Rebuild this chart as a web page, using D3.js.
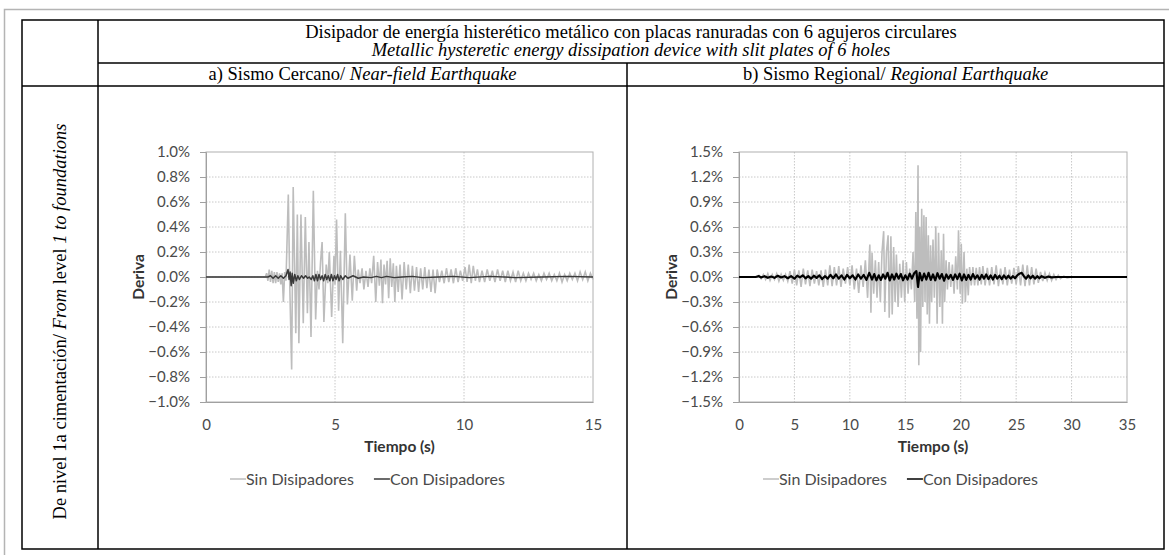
<!DOCTYPE html>
<html>
<head>
<meta charset="utf-8">
<script src="https://cdn.jsdelivr.net/npm/d3@7/dist/d3.min.js"></script>
<style>
  body { margin: 0; background: #fff; }
  svg { display: block; }
  .serif { font-family: "Liberation Serif", "Times New Roman", serif; font-size: 18.5px; fill: #000; }
  .xl text, .yl text { font-family: Lato, "Open Sans", sans-serif; font-size: 15px; fill: #4a4a4a; }
  .lab { font-family: Lato, "Open Sans", sans-serif; font-size: 15.5px; font-weight: bold; fill: #333; }
  .leg { font-family: Lato, "Open Sans", sans-serif; font-size: 16px; fill: #4a4a4a; }
</style>
</head>
<body>
<svg id="fig" width="1169" height="555"></svg>
<script>
// ---- texts ----
const titleEs = "Disipador de energía histerético metálico con placas ranuradas con 6 agujeros circulares";
const titleEn = "Metallic hysteretic energy dissipation device with slit plates of 6 holes";
const headA = ["a) Sismo Cercano/ ", "Near-field Earthquake"];
const headB = ["b) Sismo Regional/ ", "Regional Earthquake"];
const rowLabel = [["De nivel 1a cimentación/ ", false], ["From", true], [" level ", false], ["1 to foundations", true]];
const seriesNames = ["Sin Disipadores", "Con Disipadores"];

// ---- a) near-field, drift (%) vs time (s) ----
const leftXTicks = [0, 5, 10, 15];
const leftYTicks = [-1.0, -0.8, -0.6, -0.4, -0.2, 0.0, 0.2, 0.4, 0.6, 0.8, 1.0];
const leftSin = [
  [0,0],[2.3,0],[2.35,0.03],[2.4,-0.03],[2.45,0.06],[2.5,-0.04],[2.55,0.05],[2.6,-0.05],[2.65,0.04],[2.7,-0.05],
  [2.75,0.04],[2.8,-0.04],[2.85,0.03],[2.9,-0.06],[2.95,0.03],[3.0,-0.2],[3.05,0.04],[3.1,-0.03],
  [3.19,0.66],[3.25,-0.1],[3.32,-0.74],[3.38,0.72],[3.48,-0.45],[3.54,0.5],[3.6,-0.53],[3.68,0.5],[3.77,-0.37],
  [3.85,0.48],[3.93,-0.29],[3.99,0.28],[4.07,-0.48],[4.16,0.69],[4.25,-0.34],[4.32,0.05],[4.38,-0.1],[4.44,0.12],
  [4.5,0.28],[4.57,-0.36],[4.66,0.1],[4.72,-0.05],[4.78,0.2],[4.87,-0.32],[4.96,0.17],[5.0,-0.06],[5.06,0.46],
  [5.14,-0.27],[5.21,0.21],[5.3,-0.53],[5.4,0.51],[5.48,-0.22],[5.58,0.18],[5.67,-0.19],[5.75,0.17],[5.84,-0.11],
  [5.9,0.06],[5.97,-0.05],[6.05,0.07],[6.12,-0.1],[6.2,0.05],[6.28,-0.08],[6.35,0.07],[6.42,-0.05],[6.5,0.17],
  [6.58,-0.2],[6.65,0.12],[6.72,-0.07],[6.78,0.14],[6.84,-0.21],[6.9,0.1],[6.96,-0.06],[7.02,0.13],[7.08,-0.17],
  [7.14,0.15],[7.2,-0.08],[7.26,0.11],[7.32,-0.2],[7.38,0.09],[7.45,-0.12],[7.52,0.1],[7.6,-0.18],[7.68,0.12],
  [7.76,-0.1],[7.84,0.1],[7.92,-0.13],[8.0,0.09],[8.08,-0.11],[8.16,0.08],[8.24,-0.12],[8.32,0.07],[8.4,-0.1],
  [8.48,0.08],[8.56,-0.09],[8.64,0.06],[8.72,-0.12],[8.8,0.06],[8.88,-0.13],[8.96,0.06],[9.05,-0.04],[9.14,0.05],
  [9.23,-0.05],[9.32,0.07],[9.41,-0.04],[9.5,0.06],[9.59,-0.05],[9.68,0.07],[9.77,-0.04],[9.86,0.05],[9.95,-0.03],
  [10.04,0.08],[10.12,-0.04],[10.2,0.1],[10.28,-0.05],[10.36,0.09],[10.44,-0.03],[10.52,0.06],[10.6,-0.04],
  [10.7,0.05],[10.8,-0.04],[10.9,0.06],[11.0,-0.03],[11.1,0.05],[11.2,-0.04],[11.3,0.06],[11.4,-0.03],[11.5,0.05],
  [11.6,-0.04],[11.7,0.05],[11.8,-0.03],[11.9,0.04],[12.0,-0.04],[12.1,0.05],[12.2,-0.03],[12.3,0.03],[12.4,-0.03],
  [12.5,0.03],[12.6,-0.02],[12.7,0.03],[12.8,-0.03],[12.9,0.02],[13.0,-0.03],[13.1,0.03],[13.2,-0.02],[13.3,0.03],
  [13.4,-0.03],[13.5,0.02],[13.6,-0.03],[13.7,0.03],[13.8,-0.04],[13.9,0.02],[14.0,-0.03],[14.1,0.03],[14.2,-0.02],
  [14.3,0.03],[14.4,-0.03],[14.5,0.04],[14.6,-0.02],[14.7,0.04],[14.8,-0.03],[14.9,0.03],[15.0,-0.02]
];
const leftCon = [
  [0,0],[2.4,0],[2.5,0.01],[2.6,-0.01],[2.7,0.01],[2.8,-0.01],[2.9,0.01],[3.0,-0.01],[3.1,0.01],[3.18,0.06],
  [3.22,-0.02],[3.26,0.04],[3.3,-0.07],[3.34,0.03],[3.38,-0.05],[3.44,0.02],[3.5,-0.03],[3.56,0.01],[3.62,-0.02],
  [3.7,0.01],[3.78,-0.01],[3.86,0.01],[3.94,-0.01],[4.0,0.0],[4.08,-0.02],[4.14,0.01],[4.2,-0.03],[4.26,0.02],
  [4.32,-0.03],[4.38,0.02],[4.44,-0.02],[4.5,0.01],[4.56,-0.03],[4.62,0.02],[4.68,-0.02],[4.74,0.01],[4.8,-0.03],
  [4.86,0.02],[4.92,-0.03],[4.98,0.01],[5.04,-0.02],[5.1,0.02],[5.16,-0.03],[5.22,0.01],[5.3,-0.02],[5.4,0.01],
  [5.5,-0.01],[5.7,0.01],[5.9,-0.01],[6.1,0.0],[6.4,-0.005],[6.6,0.005],[6.8,-0.005],[7.0,0.005],[7.3,-0.005],[7.6,0.0],
  [8.0,0.005],[8.4,-0.005],[9.0,0.0],[9.6,0.005],[10.2,-0.005],[11.0,0.005],[12.0,-0.005],[13.0,0.0],[14.0,0.005],[15.0,0.0]
];

// ---- b) regional ----
const rightXTicks = [0, 5, 10, 15, 20, 25, 30, 35];
const rightYTicks = [-1.5, -1.2, -0.9, -0.6, -0.3, 0.0, 0.3, 0.6, 0.9, 1.2, 1.5];
const rightSin = [
  [0,0],[1.6,0],[1.8,0.02],[2.0,-0.02],[2.2,0.03],[2.4,-0.03],[2.6,0.04],[2.8,-0.04],[3.0,0.03],[3.2,-0.03],
  [3.4,0.04],[3.6,-0.05],[3.8,0.03],[4.0,-0.04],[4.2,0.03],[4.4,-0.05],[4.6,0.07],[4.8,-0.08],[5.0,0.09],[5.2,-0.1],
  [5.4,0.08],[5.6,-0.12],[5.8,0.1],[6.0,-0.09],[6.2,0.08],[6.4,-0.11],[6.6,0.09],[6.8,-0.08],[7.0,0.07],[7.2,-0.1],
  [7.4,0.08],[7.6,-0.12],[7.8,0.09],[8.0,-0.1],[8.2,0.14],[8.4,-0.11],[8.6,0.12],[8.8,-0.1],[9.0,0.13],[9.2,-0.12],
  [9.4,0.1],[9.6,-0.08],[9.8,0.12],[10.0,-0.1],[10.2,0.14],[10.4,-0.15],[10.6,0.1],[10.8,-0.19],[11.0,0.14],
  [11.2,-0.12],[11.4,0.2],[11.6,-0.25],[11.8,0.39],[11.9,-0.43],[12.0,0.29],[12.15,-0.2],[12.3,0.2],[12.45,-0.25],
  [12.6,0.18],[12.75,-0.3],[12.9,0.3],[13.05,0.55],[13.15,-0.42],[13.3,0.3],[13.45,0.5],[13.55,-0.49],[13.7,0.49],
  [13.82,-0.45],[13.95,0.36],[14.08,-0.3],[14.2,0.27],[14.35,-0.36],[14.5,0.16],[14.65,-0.25],[14.8,0.2],[14.95,-0.3],
  [15.1,0.18],[15.25,-0.2],[15.4,0.1],[15.55,-0.15],[15.7,0.3],[15.85,-0.3],[15.95,0.78],[16.05,-0.5],[16.15,1.34],
  [16.22,-1.06],[16.3,0.6],[16.38,-0.9],[16.48,0.82],[16.58,-0.36],[16.68,0.74],[16.78,-0.3],[16.88,0.72],[16.98,-0.45],
  [17.08,0.5],[17.18,-0.56],[17.28,0.38],[17.38,-0.3],[17.5,0.45],[17.62,-0.25],[17.75,0.61],[17.87,-0.56],[18.0,0.53],
  [18.12,-0.36],[18.25,0.32],[18.35,-0.56],[18.45,0.52],[18.55,-0.3],[18.68,0.2],[18.8,-0.15],[18.95,0.18],[19.1,-0.12],
  [19.25,0.15],[19.4,-0.2],[19.55,0.25],[19.7,-0.15],[19.8,0.56],[19.95,-0.2],[20.05,0.4],[20.15,-0.32],[20.3,0.3],
  [20.42,-0.3],[20.55,0.1],[20.68,-0.22],[20.8,0.12],[20.95,-0.1],[21.1,0.12],[21.25,-0.1],[21.4,0.11],[21.55,-0.1],
  [21.7,0.12],[21.85,-0.09],[22.0,0.13],[22.2,-0.1],[22.4,0.11],[22.6,-0.1],[22.8,0.12],[23.0,-0.09],[23.2,0.14],
  [23.4,-0.11],[23.6,0.1],[23.8,-0.09],[24.0,0.12],[24.2,-0.1],[24.4,0.09],[24.6,-0.08],[24.8,0.11],[25.0,-0.09],
  [25.2,0.13],[25.4,-0.1],[25.6,0.15],[25.8,-0.11],[26.0,0.14],[26.2,-0.1],[26.4,0.12],[26.6,-0.09],[26.8,0.1],
  [27.0,-0.07],[27.2,0.06],[27.4,-0.05],[27.6,0.05],[27.8,-0.04],[28.0,0.04],[28.2,-0.04],[28.4,0.03],[28.6,-0.03],
  [28.8,0.02],[29.0,-0.02],[29.3,0.01],[29.6,-0.01],[30,0],[35,0]
];
const rightCon = [
  [0,0],[1.5,0],[1.8,0.01],[2.0,-0.005],[2.3,0.01],[2.6,-0.01],[2.9,0.005],[3.2,-0.01],[3.5,0.015],[3.8,-0.005],
  [4.1,0.01],[4.4,-0.015],[4.7,0.01],[5.0,-0.02],[5.25,0.015],[5.5,-0.005],[5.75,0.02],[6.0,-0.015],[6.25,0.01],
  [6.5,-0.02],[6.75,0.015],[7.0,-0.01],[7.25,0.02],[7.5,-0.025],[7.75,0.01],[8.0,-0.02],[8.25,0.025],[8.5,-0.015],
  [8.75,0.03],[9.0,-0.02],[9.25,0.02],[9.5,-0.03],[9.75,0.025],[10.0,-0.015],[10.25,0.02],[10.5,-0.03],[10.75,0.03],
  [11.0,-0.02],[11.25,0.025],[11.5,-0.035],[11.75,0.05],[12.0,-0.03],[12.2,0.035],[12.4,-0.04],[12.6,0.02],
  [12.8,-0.035],[13.0,0.03],[13.2,-0.02],[13.4,0.05],[13.6,-0.04],[13.8,0.03],[14.0,-0.03],[14.2,0.04],[14.4,-0.02],
  [14.6,0.035],[14.8,-0.04],[15.0,0.02],[15.2,-0.03],[15.4,0.04],[15.6,-0.02],[15.8,0.045],[16.0,0.07],[16.15,-0.12],
  [16.3,0.05],[16.5,-0.04],[16.7,0.04],[16.9,-0.03],[17.1,0.05],[17.3,-0.035],[17.5,0.03],[17.7,-0.04],[17.9,0.045],
  [18.1,-0.02],[18.3,0.035],[18.5,-0.045],[18.7,0.03],[18.9,-0.02],[19.1,0.025],[19.3,-0.035],[19.5,0.03],
  [19.7,-0.025],[19.9,0.04],[20.1,-0.04],[20.3,0.03],[20.5,-0.035],[20.7,0.025],[20.9,-0.03],[21.1,0.035],
  [21.3,-0.02],[21.5,0.02],[21.7,-0.03],[21.9,0.025],[22.1,-0.02],[22.3,0.03],[22.5,-0.025],[22.7,0.02],[22.9,-0.03],
  [23.1,0.025],[23.3,-0.02],[23.5,0.015],[23.7,-0.025],[23.9,0.02],[24.1,-0.02],[24.3,0.015],[24.5,-0.02],[24.7,0.01],
  [24.9,-0.015],[25.1,0.02],[25.3,0.04],[25.5,0.05],[25.7,0.01],[25.9,-0.02],[26.1,0.02],[26.3,-0.015],[26.5,0.015],
  [26.7,-0.02],[26.9,0.01],[27.1,-0.015],[27.3,0.01],[27.6,-0.01],[27.9,0.005],[28.2,-0.005],[28.6,0],[35,0]
];

const svg = d3.select("#fig");
svg.append("rect").attr("width", 1169).attr("height", 555).attr("fill", "#fff");

// page frame (grey) and table (black)
svg.append("path").attr("d", "M4.5,555V9.5H1169").attr("fill", "none").attr("stroke", "#b4b4b4").attr("stroke-width", 1.5);
const T = {l: 22, r: 1164, t: 20, b: 549, c1: 98, c2: 627, h1: 63, h2: 86};
const tbl = svg.append("g").attr("stroke", "#000").attr("stroke-width", 1.5).attr("fill", "none");
tbl.append("rect").attr("x", T.l).attr("y", T.t).attr("width", T.r - T.l).attr("height", T.b - T.t);
tbl.append("line").attr("x1", T.c1).attr("x2", T.c1).attr("y1", T.t).attr("y2", T.b);
tbl.append("line").attr("x1", T.c1).attr("x2", T.r).attr("y1", T.h1).attr("y2", T.h1);
tbl.append("line").attr("x1", T.l).attr("x2", T.r).attr("y1", T.h2).attr("y2", T.h2);
tbl.append("line").attr("x1", T.c2).attr("x2", T.c2).attr("y1", T.h1).attr("y2", T.b);

const midX = (T.c1 + T.r) / 2;
svg.append("text").attr("class", "serif").attr("x", midX).attr("y", 38).attr("text-anchor", "middle").text(titleEs);
svg.append("text").attr("class", "serif").attr("x", midX).attr("y", 56).attr("text-anchor", "middle")
  .style("font-style", "italic").text(titleEn);

function header(parts, cx) {
  const t = svg.append("text").attr("class", "serif").attr("x", cx).attr("y", 80).attr("text-anchor", "middle");
  t.append("tspan").text(parts[0]);
  t.append("tspan").style("font-style", "italic").text(parts[1]);
}
header(headA, (T.c1 + T.c2) / 2);
header(headB, (T.c2 + T.r) / 2);

const rl = svg.append("text").attr("class", "serif").attr("text-anchor", "middle")
  .attr("transform", `translate(${(T.l + T.c1) / 2 + 6},${(T.h2 + T.b) / 2 + 4}) rotate(-90)`);
rowLabel.forEach(p => rl.append("tspan").style("font-style", p[1] ? "italic" : "normal").text(p[0]));

// ---- the two charts ----
const charts = [
  {sin: leftSin, con: leftCon, xMax: 15, xTicks: leftXTicks, yMax: 1.0, yTicks: leftYTicks,
   left: 206, right: 593, conColor: "#3a3a3a", conWidth: 1.5, legendX: 230},
  {sin: rightSin, con: rightCon, xMax: 35, xTicks: rightXTicks, yMax: 1.5, yTicks: rightYTicks,
   left: 739, right: 1127, conColor: "#000", conWidth: 2.2, legendX: 763}
];
const plotTop = 152, plotBottom = 402;

charts.forEach(c => {
  const x = d3.scaleLinear().domain([0, c.xMax]).range([c.left, c.right]);
  const y = d3.scaleLinear().domain([-c.yMax, c.yMax]).range([plotBottom, plotTop]);
  const g = svg.append("g");

  // grid
  g.append("g").selectAll("line").data(c.yTicks.slice(1, -1)).join("line")
    .attr("x1", c.left).attr("x2", c.right).attr("y1", d => y(d)).attr("y2", d => y(d))
    .attr("stroke", "#c8c8c8").attr("stroke-dasharray", "1.5,1.5");
  g.append("g").selectAll("line").data(c.xTicks.slice(1, -1)).join("line")
    .attr("x1", d => x(d)).attr("x2", d => x(d)).attr("y1", plotTop).attr("y2", plotBottom)
    .attr("stroke", "#c8c8c8").attr("stroke-dasharray", "1.5,1.5");
  g.append("rect").attr("x", c.left).attr("y", plotTop).attr("width", c.right - c.left).attr("height", plotBottom - plotTop)
    .attr("fill", "none").attr("stroke", "#b0b0b0");

  // axes
  const ya = g.append("g").attr("class", "yl").attr("transform", `translate(${c.left},0)`)
    .call(d3.axisLeft(y).tickValues(c.yTicks).tickSize(6).tickPadding(10).tickFormat(d => d3.format(".1f")(d) + "%"));
  ya.select(".domain").attr("stroke", "#a0a0a0");
  ya.selectAll(".tick line").attr("stroke", "#a0a0a0");
  const xa = g.append("g").attr("class", "xl").attr("transform", `translate(0,${plotBottom})`)
    .call(d3.axisBottom(x).tickValues(c.xTicks).tickSize(0).tickPadding(17));
  xa.select(".domain").attr("stroke", "#a0a0a0");

  // series
  const line = d3.line().x(d => x(d[0])).y(d => y(d[1]));
  g.append("path").datum(c.sin).attr("d", line).attr("fill", "none").attr("stroke", "#bdbdbd").attr("stroke-width", 1.6);
  g.append("path").datum(c.con).attr("d", line).attr("fill", "none").attr("stroke", c.conColor)
    .attr("stroke-width", c.conWidth).attr("stroke-linejoin", "round");

  // titles
  g.append("text").attr("class", "lab").attr("text-anchor", "middle")
    .attr("transform", `translate(${c.left - 62},${(plotTop + plotBottom) / 2}) rotate(-90)`).text("Deriva");
  g.append("text").attr("class", "lab").attr("text-anchor", "middle")
    .attr("x", (c.left + c.right) / 2).attr("y", 452).text("Tiempo (s)");

  // legend
  const lg = g.append("g").attr("transform", `translate(${c.legendX},479)`);
  let off = 0;
  seriesNames.forEach((name, i) => {
    lg.append("line").attr("x1", off).attr("x2", off + 16).attr("y1", 0).attr("y2", 0)
      .attr("stroke", i === 0 ? "#bdbdbd" : c.conColor).attr("stroke-width", 1.5);
    const t = lg.append("text").attr("class", "leg").attr("x", off + 16).attr("y", 5.5).text(name);
    off += 16 + t.node().getComputedTextLength() + 20;
  });
});
</script>
</body>
</html>
